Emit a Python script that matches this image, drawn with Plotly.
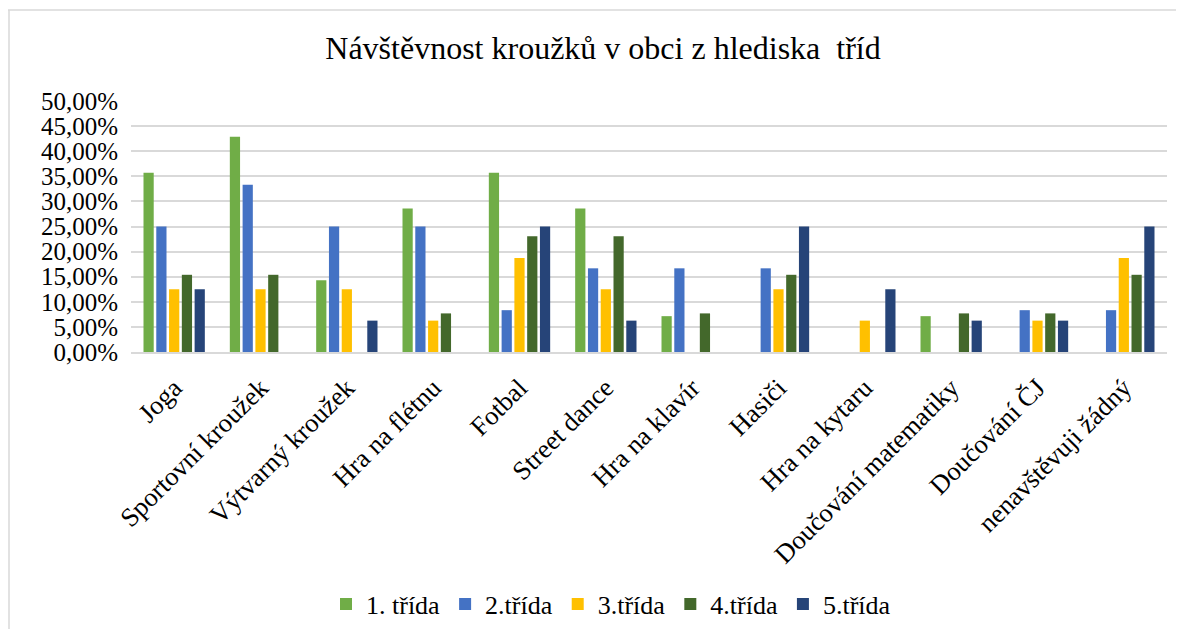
import plotly.graph_objects as go

categories = ["Joga", "Sportovní kroužek", "Výtvarný kroužek", "Hra na flétnu", "Fotbal",
              "Street dance", "Hra na klavír", "Hasiči", "Hra na kytaru",
              "Doučování matematiky", "Doučování ČJ", "nenavštěvuji žádný"]

trida1 = [0.3571, 0.4286, 0.1429, 0.2857, 0.3571, 0.2857, 0.0714, 0, 0, 0.0714, 0, 0]
trida2 = [0.25, 0.3333, 0.25, 0.25, 0.0833, 0.1667, 0.1667, 0.1667, 0, 0, 0.0833, 0.0833]
trida3 = [0.125, 0.125, 0.125, 0.0625, 0.1875, 0.125, 0, 0.125, 0.0625, 0, 0.0625, 0.1875]
trida4 = [0.1538, 0.1538, 0, 0.0769, 0.2308, 0.2308, 0.0769, 0.1538, 0, 0.0769, 0.0769, 0.1538]
trida5 = [0.125, 0, 0.0625, 0, 0.25, 0.0625, 0, 0.25, 0.125, 0.0625, 0.0625, 0.25]

series_names = ["1. třída", "2.třída", "3.třída", "4.třída", "5.třída"]
series_values = [trida1, trida2, trida3, trida4, trida5]
colors = ["#70AD47", "#4472C4", "#FFC000", "#43682B", "#264478"]

font = "Liberation Serif, Times New Roman, serif"

W, H = 1168, 621
L, R, T, B = 123, 9, 93, 277
pw, ph = W - L - R, H - T - B

fig = go.Figure()
for name, vals, c in zip(series_names, series_values, colors):
    fig.add_trace(go.Bar(x=categories, y=vals, name=name, marker_color=c,
                         marker_line_width=0))

fig.update_layout(
    width=W, height=H,
    margin=dict(l=L, r=R, t=T, b=B, autoexpand=False),
    paper_bgcolor="white", plot_bgcolor="white",
    barmode="group", bargap=0.26, bargroupgap=0.2,
    separators=",.",
    font=dict(family=font, color="#000000"),
    title=dict(text="Návštěvnost kroužků v obci z hlediska  tříd", x=595 / W, xanchor="center",
               y=1 - 40 / H, yanchor="middle", font=dict(size=32, family=font, color="#000000")),
    legend=dict(orientation="h", x=(318 - L) / pw, xanchor="left", y=-(596 - (H - B)) / ph,
                yanchor="middle", font=dict(size=26, family=font), itemwidth=30,
                traceorder="normal"),
    showlegend=True,
)
fig.update_yaxes(range=[0, 0.5], dtick=0.05, tickformat=".2%", showgrid=True,
                 gridcolor="#d9d9d9", gridwidth=1.5, zeroline=False, showline=False,
                 tickfont=dict(size=25, family=font), ticks="", ticklabelstandoff=12,
                 automargin=False)
fig.update_xaxes(tickangle=-45, tickfont=dict(size=26.5, family=font), showline=True,
                 linecolor="#d9d9d9", linewidth=1.5, ticks="", ticklabelstandoff=8,
                 automargin=False)
# chart-area border (top and left edges visible)
fig.add_shape(type="line", xref="paper", yref="paper",
              x0=-L / pw, x1=1 + R / pw, y0=1 + (T - 2) / ph, y1=1 + (T - 2) / ph,
              line=dict(color="#d9d9d9", width=1.5), layer="below")
fig.add_shape(type="line", xref="paper", yref="paper",
              x0=-(L - 1) / pw, x1=-(L - 1) / pw, y0=1 + (T - 2) / ph, y1=-B / ph,
              line=dict(color="#d9d9d9", width=1.5), layer="below")

fig.write_html("out.html")
